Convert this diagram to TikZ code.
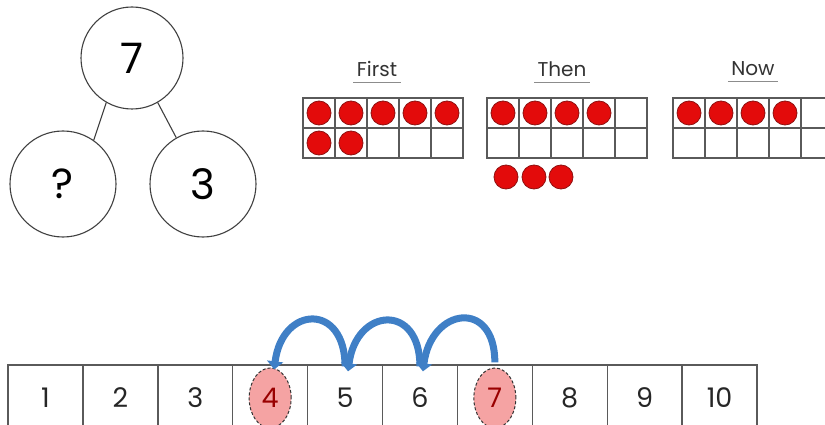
\documentclass[tikz,border=0pt]{standalone}
\usepackage{fontspec}
\setmainfont{Poppins}
\usetikzlibrary{arrows.meta,shapes.geometric}
\definecolor{dotred}{HTML}{E30B0B}
\definecolor{dotedge}{HTML}{8E1010}
\definecolor{pinkfill}{HTML}{F5A3A3}
\definecolor{jumpblue}{HTML}{3F7FC6}
\definecolor{gridgrey}{HTML}{5A5A5A}
\begin{document}
\begin{tikzpicture}[x=1pt,y=-1pt,
  pcircle/.style={circle, draw=black!75, line width=1.1pt, minimum size=102pt, inner sep=0pt, font=\fontsize{42}{42}\selectfont},
  tfcell/.style={draw=gridgrey, line width=1.6pt, minimum width=32pt, minimum height=30pt, inner sep=0pt},
  reddot/.style={circle, fill=dotred, draw=dotedge, line width=0.8pt, minimum size=24pt, inner sep=0pt},
  heading/.style={font=\fontsize{20}{20}\selectfont, text=black!80},
  ulineS/.style={draw=black!45, line width=0.8pt},
  nlcell/.style={draw=gridgrey, line width=1.3pt, minimum width=75pt, minimum height=66pt, inner sep=0pt, font=\fontsize{27}{27}\selectfont, text=black!85},
  ringmark/.style={ellipse, fill=pinkfill, draw=black!80, densely dashed, line width=1pt, minimum width=42pt, minimum height=60pt, inner sep=0pt},
  jump/.style={draw=jumpblue, line width=7pt, -{Triangle[width=16pt,length=8pt]}}
]
\useasboundingbox (0,0) rectangle (825,425);
\clip (0,0) rectangle (825,425);

% part-whole model
\node[pcircle] (whole) at (132,58) {7};
\node[pcircle, minimum size=106pt] (partA) at (63,184) {?};
\node[pcircle, minimum size=106pt] (partB) at (203,184) {3};
\draw[line width=1.1pt, black!75] (whole.240) -- (partA.55);
\draw[line width=1.1pt, black!75] (whole.300) -- (partB.120);

% headings
\node[heading] (hFirst) at (377,69) {First};
\node[heading] (hThen) at (562,69) {Then};
\node[heading] (hNow) at (753,69) {Now};
\foreach \h in {hFirst,hThen,hNow}{
  \draw[ulineS] ([yshift=-2pt]\h.south west) -- ([yshift=-2pt]\h.south east);
}

% ten frames
\foreach \fr/\x in {F/303,T/487,N/673}{
  \foreach \r in {0,1}{
    \foreach \c in {0,...,4}{
      \node[tfcell] (\fr-\r-\c) at ({\x+16+32*\c},{113+30*\r}) {};
    }
  }
}
% First: 5 + 2
\foreach \c in {0,...,4}{ \node[reddot] (dF0\c) at (F-0-\c) {}; }
\foreach \c in {0,1}{ \node[reddot] (dF1\c) at (F-1-\c) {}; }
% Then: 4 in frame, 3 below
\foreach \c in {0,...,3}{ \node[reddot] (dT0\c) at (T-0-\c) {}; }
\node[reddot] (dTx1) at (506,177) {};
\node[reddot] (dTx2) at (534,177) {};
\node[reddot] (dTx3) at (561,177) {};
% Now: 4
\foreach \c in {0,...,3}{ \node[reddot] (dN0\c) at (N-0-\c) {}; }

% number line
\foreach \n in {1,...,10}{
  \node[nlcell] (c\n) at ({8+37.45+74.9*(\n-1)},398) {};
}
\node[ringmark] (e4) at (c4.center) {};
\node[ringmark] (e7) at (c7.center) {};
\foreach \n in {1,2,3,5,6,8,9,10}{
  \node[font=\fontsize{27}{27}\selectfont, text=black!85] (t\n) at (c\n.center) {\n};
}
\node[font=\fontsize{27}{27}\selectfont, text=red!60!black] (t4) at (c4.center) {4};
\node[font=\fontsize{27}{27}\selectfont, text=red!60!black] (t7) at (c7.center) {7};

% jumps back
\draw[jump] ([yshift=2pt]c7.north) .. controls +(0,-64) and +(8,-64) .. ([xshift=3pt,yshift=-7pt]c6.north);
\draw[jump] ([yshift=-2pt]c6.north) .. controls +(0,-64) and +(8,-64) .. ([xshift=3pt,yshift=-7pt]c5.north);
\draw[jump] ([yshift=-2pt]c5.north) .. controls +(0,-64) and +(8,-64) .. ([xshift=4pt,yshift=-5pt]c4.north);
\end{tikzpicture}
\end{document}
